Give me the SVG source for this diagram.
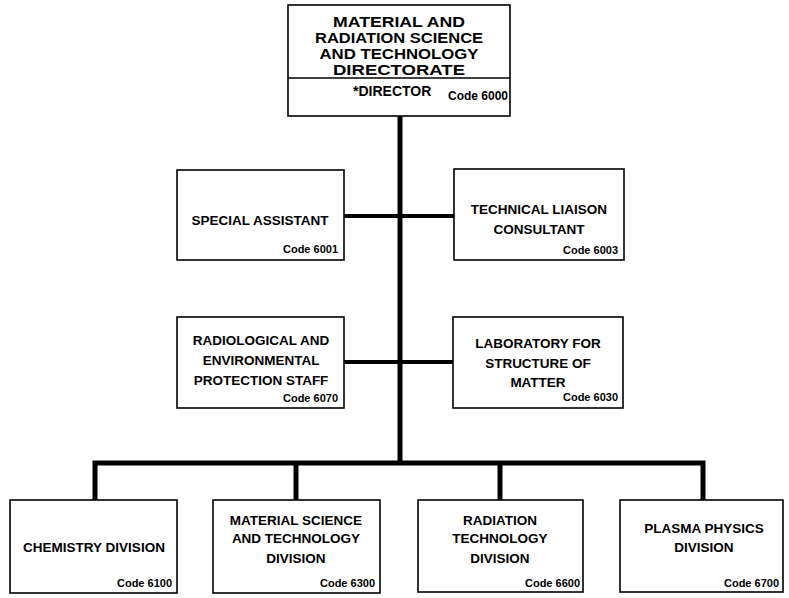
<svg xmlns="http://www.w3.org/2000/svg" width="789" height="598" viewBox="0 0 789 598">
<style>
.box{fill:#fff;stroke:#000;stroke-width:1.6}
.t{font-family:"Liberation Sans",Arial,sans-serif;font-weight:bold;fill:#000;text-anchor:middle}
.n{font-size:13.5px}
.title{font-size:14px}
.code{font-family:"Liberation Sans",Arial,sans-serif;font-weight:bold;fill:#000;font-size:11px;text-anchor:end}
.con{fill:none;stroke:#000;stroke-width:5;stroke-linejoin:miter}
.side{fill:none;stroke:#000;stroke-width:4}
</style>
<rect width="789" height="598" fill="#fff"/>
<g id="connectors">
<line class="con" x1="400" y1="116" x2="400" y2="465"/>
<line class="side" x1="344" y1="216" x2="454" y2="216"/>
<line class="side" x1="344" y1="362" x2="453" y2="362"/>
<path class="con" d="M95,500 V463 H703 V500"/>
<line class="con" x1="296" y1="463" x2="296" y2="500"/>
<line class="con" x1="500" y1="463" x2="500" y2="500"/>
</g>
<g id="directorate">
<rect class="box" x="288" y="5" width="222" height="111"/>
<line x1="288" y1="78" x2="510" y2="78" stroke="#000" stroke-width="1.6"/>
<text class="t title" x="399" y="27" textLength="132" lengthAdjust="spacingAndGlyphs">MATERIAL AND</text>
<text class="t title" x="399" y="43" textLength="168" lengthAdjust="spacingAndGlyphs">RADIATION SCIENCE</text>
<text class="t title" x="399" y="59" textLength="159" lengthAdjust="spacingAndGlyphs">AND TECHNOLOGY</text>
<text class="t title" x="399" y="75" textLength="132" lengthAdjust="spacingAndGlyphs">DIRECTORATE</text>
<text class="t" x="353" y="96" style="font-size:14px;text-anchor:start">*DIRECTOR</text>
<text class="code" x="508" y="100" style="font-size:12px">Code 6000</text>
</g>
<g id="special-assistant">
<rect class="box" x="177" y="170" width="167" height="90"/>
<text class="t n" x="260" y="225">SPECIAL ASSISTANT</text>
<text class="code" x="338" y="253">Code 6001</text>
</g>
<g id="technical-liaison">
<rect class="box" x="454" y="169" width="170" height="91"/>
<text class="t n" x="539" y="214">TECHNICAL LIAISON</text>
<text class="t n" x="539" y="234">CONSULTANT</text>
<text class="code" x="618" y="254">Code 6003</text>
</g>
<g id="radiological">
<rect class="box" x="177" y="317" width="167" height="91"/>
<text class="t n" x="261" y="345">RADIOLOGICAL AND</text>
<text class="t n" x="261" y="365">ENVIRONMENTAL</text>
<text class="t n" x="261" y="385">PROTECTION STAFF</text>
<text class="code" x="338" y="402">Code 6070</text>
</g>
<g id="laboratory">
<rect class="box" x="453" y="317" width="170" height="91"/>
<text class="t n" x="538" y="348">LABORATORY FOR</text>
<text class="t n" x="538" y="368">STRUCTURE OF</text>
<text class="t n" x="538" y="387">MATTER</text>
<text class="code" x="618" y="401">Code 6030</text>
</g>
<g id="chemistry">
<rect class="box" x="10" y="500" width="167" height="93"/>
<text class="t n" x="94" y="552">CHEMISTRY DIVISION</text>
<text class="code" x="172" y="587">Code 6100</text>
</g>
<g id="material-science">
<rect class="box" x="213" y="500" width="167" height="93"/>
<text class="t n" x="296" y="525">MATERIAL SCIENCE</text>
<text class="t n" x="296" y="543">AND TECHNOLOGY</text>
<text class="t n" x="296" y="563">DIVISION</text>
<text class="code" x="375" y="587">Code 6300</text>
</g>
<g id="radiation">
<rect class="box" x="418" y="500" width="165" height="92"/>
<text class="t n" x="500" y="525">RADIATION</text>
<text class="t n" x="500" y="543">TECHNOLOGY</text>
<text class="t n" x="500" y="563">DIVISION</text>
<text class="code" x="580" y="587">Code 6600</text>
</g>
<g id="plasma">
<rect class="box" x="620" y="500" width="163" height="92"/>
<text class="t n" x="704" y="533">PLASMA PHYSICS</text>
<text class="t n" x="704" y="552">DIVISION</text>
<text class="code" x="779" y="587">Code 6700</text>
</g>
</svg>
